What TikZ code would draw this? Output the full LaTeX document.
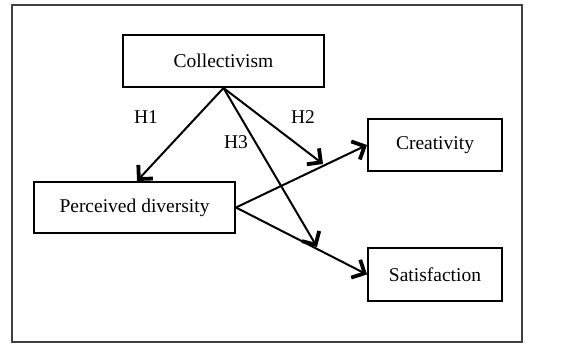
\documentclass[tikz,border=0pt]{standalone}
\usepackage{fontspec}
\setmainfont{Liberation Serif}
\usetikzlibrary{arrows.meta}
\begin{document}
\begin{tikzpicture}[x=1pt,y=-1pt,
  box/.style={draw=black,line width=2pt,inner sep=0pt,font=\fontsize{19.5}{22}\selectfont},
  arr/.style={line width=2pt,-{Straight Barb[length=10pt,width=20pt,line width=3.8pt]}},
  lab/.style={font=\fontsize{19.5}{22}\selectfont,inner sep=0pt}]
\useasboundingbox (0,0) rectangle (587,344);
\draw[draw=black!75,line width=1.4pt] (12,5) rectangle (522,342);
\node[box,minimum width=201pt,minimum height=52pt] (col) at (223.5,61) {Collectivism};
\node[box,minimum width=201pt,minimum height=51pt] (pd) at (134.5,207.5) {Perceived diversity};
\node[box,minimum width=134pt,minimum height=52pt] (cre) at (435,145) {Creativity};
\node[box,minimum width=134pt,minimum height=53pt] (sat) at (435,274.5) {Satisfaction};
\coordinate (h2end) at (323,164);
\coordinate (h3end) at (317,247);
\draw[arr] (col.south) -- (pd.north -| 137,0);
\draw[arr] (col.south) -- (h2end);
\draw[arr] (col.south) -- (h3end);
\draw[arr] (pd.east) -- (cre.west);
\draw[arr] (pd.east) -- (sat.west);
\node[lab] (h1) at (146,117) {H1};
\node[lab] (h2) at (303,117) {H2};
\node[lab] (h3) at (236,142) {H3};
\end{tikzpicture}
\end{document}
